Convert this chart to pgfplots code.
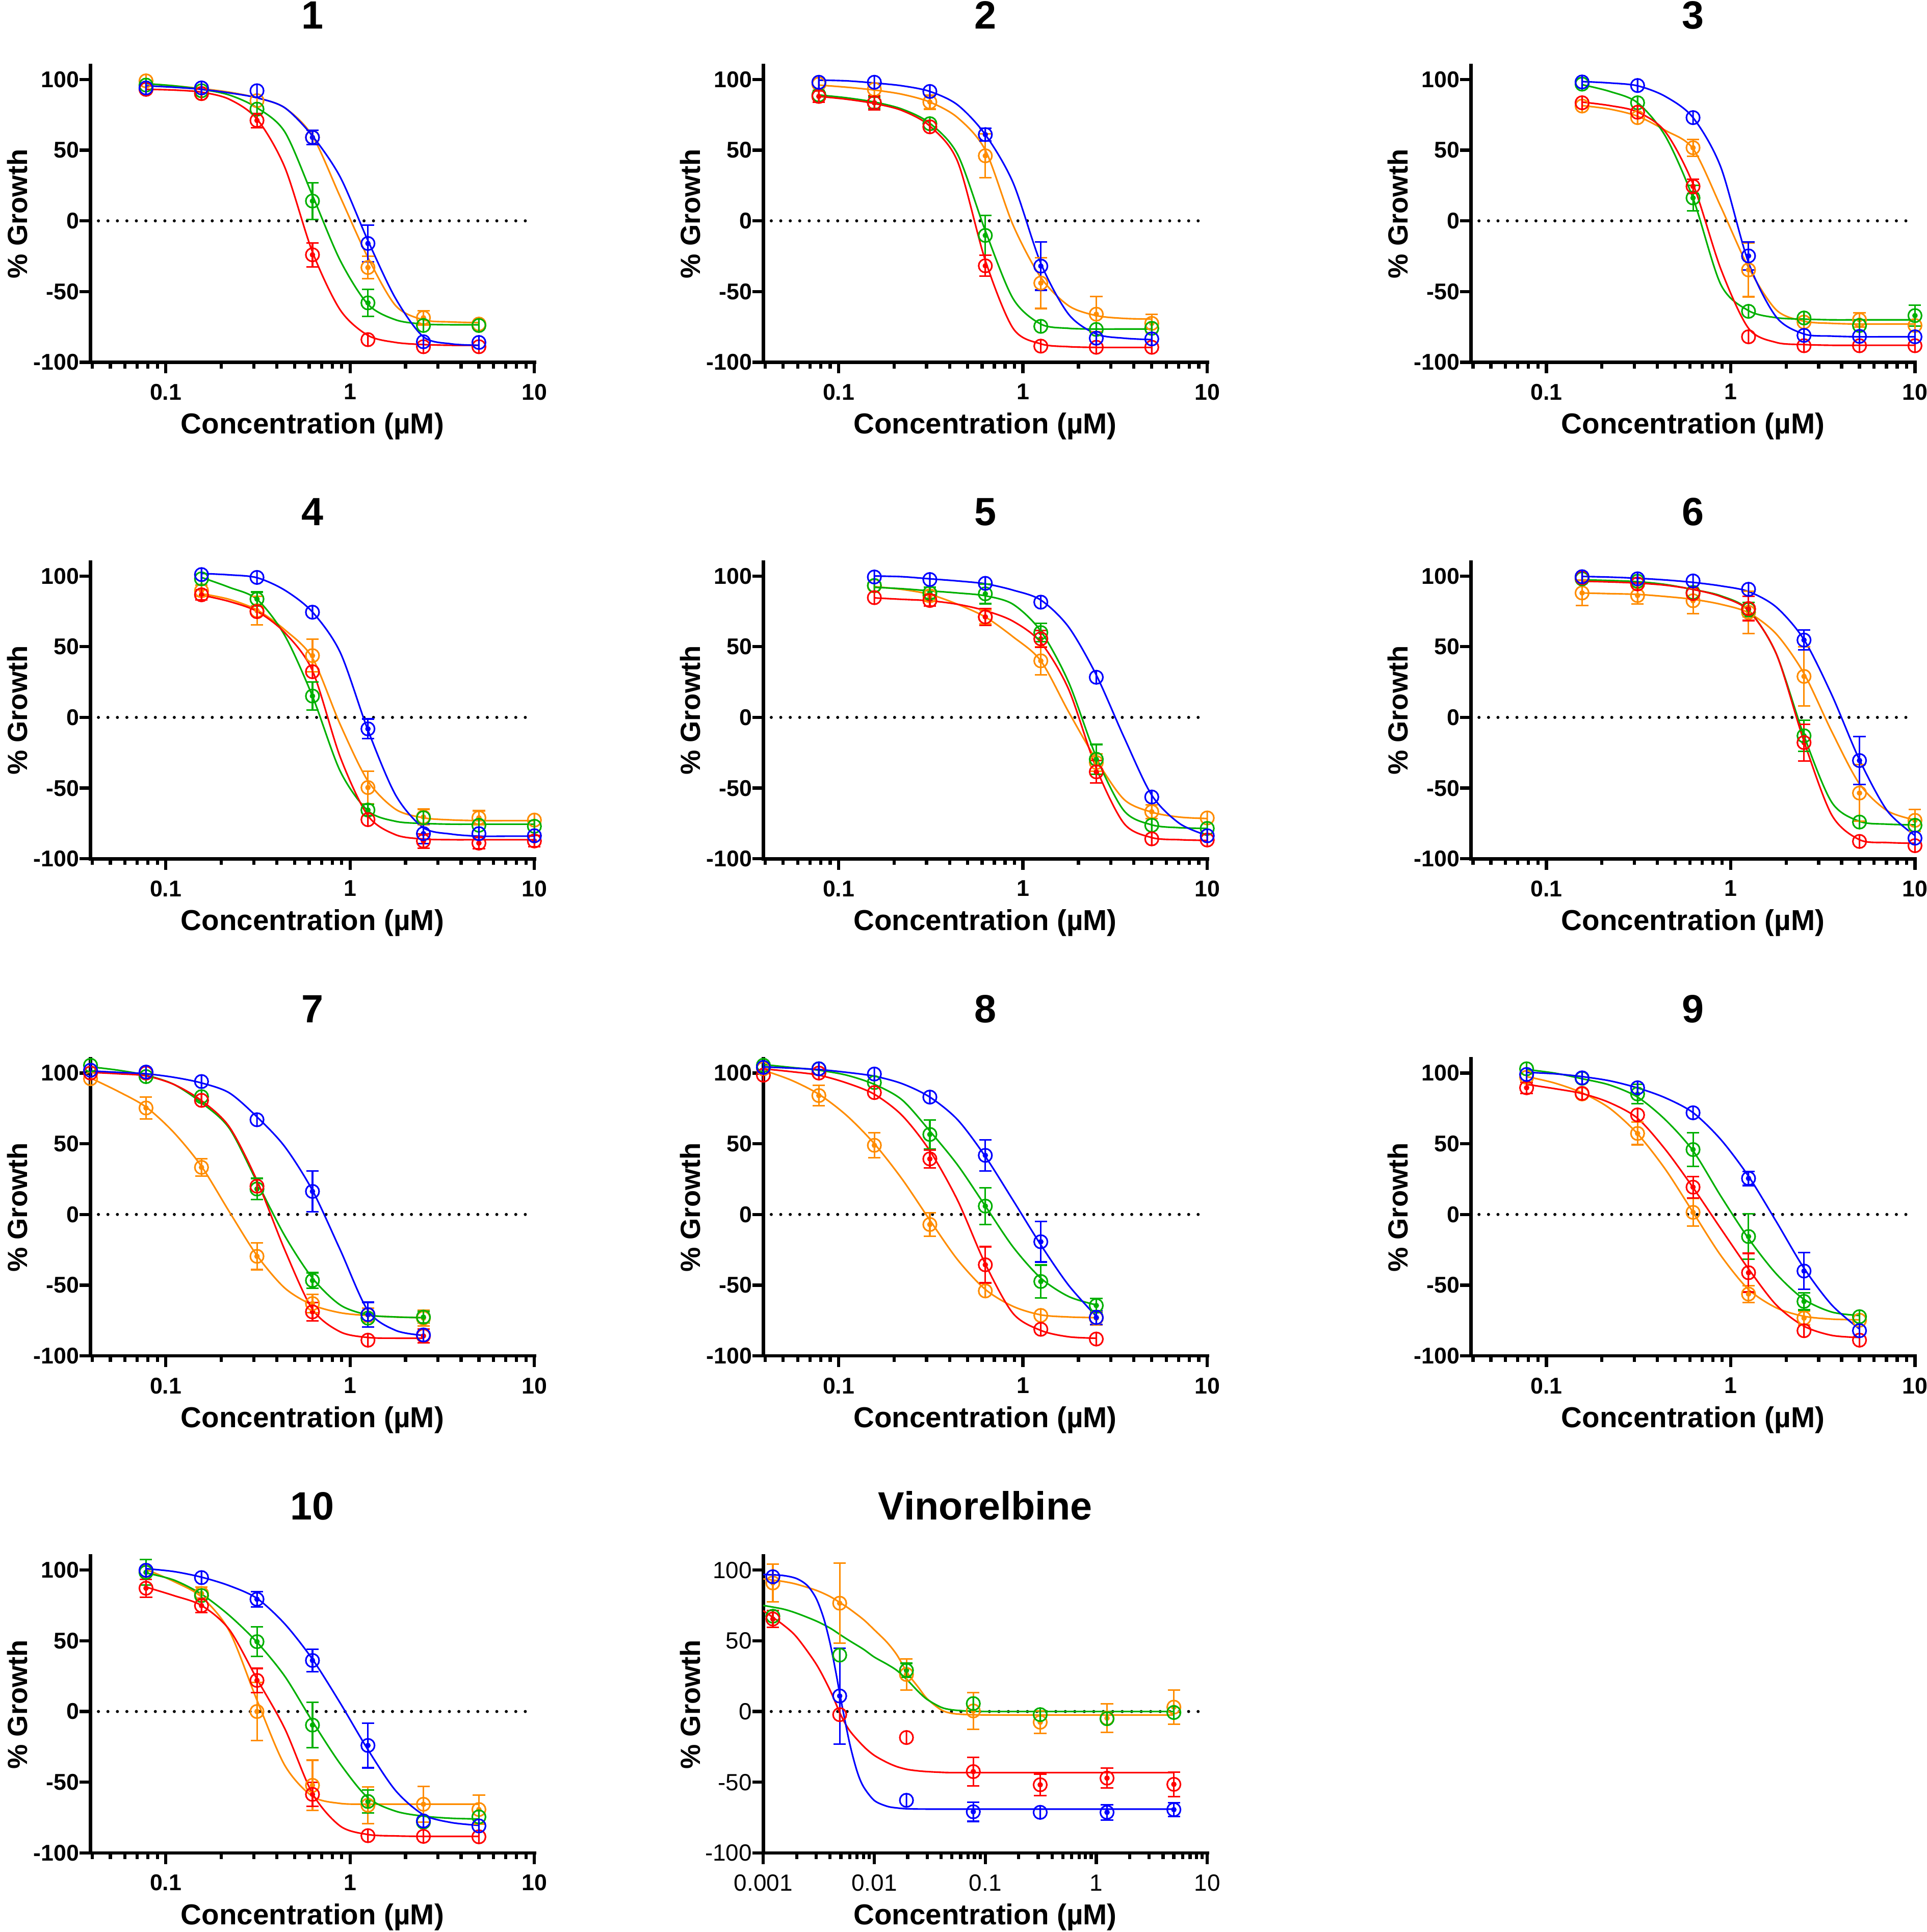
\documentclass[border=0pt]{standalone}
\usepackage{pgfplots}
\pgfplotsset{compat=1.18}
\usepackage{pgfplotstable}
\usepackage{fontspec}
\setmainfont{Liberation Sans}
\definecolor{cO}{RGB}{255,140,0}
\definecolor{cG}{RGB}{0,176,0}
\definecolor{cR}{RGB}{255,0,0}
\definecolor{cB}{RGB}{0,0,255}
\pgfdeclareplotmark{phi}{%
  \pgfpathcircle{\pgfpointorigin}{\pgfplotmarksize}%
  \pgfpathmoveto{\pgfpoint{0pt}{-\pgfplotmarksize}}%
  \pgfpathlineto{\pgfpoint{0pt}{\pgfplotmarksize}}%
  \pgfusepathqstroke}
\pgfplotsset{
  myBase/.style={
    ymin=-100, ymax=110,
    scale only axis, width=360.4pt, height=241pt,
    axis x line*=bottom, axis y line*=left,
    axis line style={line width=2.8pt, -, line cap=rect},
    tick align=outside, major tick length=9pt, minor tick length=5pt,
    tick style={line width=2.6pt, black},
    ytick={-100,-50,0,50,100}, yticklabels={-100,-50,0,50,100},
    clip=false,
    tick label style={font=\fontsize{18.5}{18.5}\selectfont\bfseries},
    xticklabel style={anchor=north, inner sep=0pt, yshift=-8.5pt},
    yticklabel style={anchor=east, inner sep=0pt, xshift=0pt},
    xlabel={Concentration (µM)}, ylabel={\% Growth},
    xlabel style={font=\fontsize{23.4}{23.4}\selectfont\bfseries, at={(axis description cs:0.5,-0.2407)}, anchor=base},
    ylabel style={font=\fontsize{22.5}{22.5}\selectfont\bfseries, at={(axis description cs:-0.1426,0.5)}, anchor=base},
    title style={font=\fontsize{32}{32}\selectfont\bfseries, at={(axis description cs:0.5,1.0975)}, anchor=base},
  },
  myStd/.style={myBase, xmin=0.039, xmax=10, xtick={0.1,1,10}, xticklabels={0.1,1,10},
    minor xtick={0.04,0.05,0.06,0.07,0.08,0.09,0.2,0.3,0.4,0.5,0.6,0.7,0.8,0.9,2,3,4,5,6,7,8,9}},
  myVin/.style={myBase, xmin=0.001, xmax=10, xtick={0.001,0.01,0.1,1,10}, xticklabels={0.001,0.01,0.1,1,10},
    minor xtick={0.002,0.003,0.004,0.005,0.006,0.007,0.008,0.009,0.02,0.03,0.04,0.05,0.06,0.07,0.08,0.09,0.2,0.3,0.4,0.5,0.6,0.7,0.8,0.9,2,3,4,5,6,7,8,9},
    tick label style={font=\fontsize{19}{19}\selectfont\mdseries}},
  myZero/.style={black, line width=2.5pt, dash pattern=on 0pt off 7.7pt, line cap=round, mark=none},
  myCurve/.style={smooth, line width=1.3pt, mark=none},
  myPts/.style={only marks, mark=phi, mark size=5.4pt, mark options={line width=1.3pt, solid}},
  myErrs/.style={only marks, mark=none, error bars/y dir=both, error bars/y explicit,
    error bars/error bar style={line width=1.3pt},
    error bars/error mark options={rotate=90, line width=1.3pt, mark size=5pt}},
}
\newcommand{\curves}[1]{%
  \addplot[myCurve,cO] table[x=x,y=o]{#1};
  \addplot[myCurve,cG] table[x=x,y=g]{#1};
  \addplot[myCurve,cR] table[x=x,y=r]{#1};
  \addplot[myCurve,cB] table[x=x,y=b]{#1};}
\newcommand{\points}[1]{%
  \addplot[myPts,cO] table[x=x,y=o]{#1};
  \addplot[myPts,cG] table[x=x,y=g]{#1};
  \addplot[myPts,cR] table[x=x,y=r]{#1};
  \addplot[myPts,cB] table[x=x,y=b]{#1};}

% ---------------- Panel 1
\pgfplotstableread{
x o g r b
0.078125 97 97 93 95.5
0.1105 95.5 95.5 92.5 94.5
0.15625 93.5 93 91 93
0.2210 91 89 86 90.5
0.3125 87 80 72 87
0.4419 80 63 38 80
0.625 60 18 -22 60
0.8839 17 -28 -63 31
1.25 -26 -59 -81 -14
1.7678 -60 -70 -86 -55
2.5 -70 -73 -87.5 -82
3.5355 -71.5 -73.5 -88 -87
5 -72 -73.5 -88 -88
}\cA
\pgfplotstableread{
x o g r b
0.078125 99 96 93 94
0.15625 90 92 90 94
0.3125 85 79 71 92
0.625 59 14 -24 59
1.25 -33 -58 -84 -16
2.5 -68.5 -74 -89 -85.5
5 -73 -74 -89 -86
}\pA
% ---------------- Panel 2
\pgfplotstableread{
x o g r b
0.078125 96 89 88 99.5
0.1105 94.5 87 86 99
0.15625 92.5 84 83 97.5
0.2210 89.5 79 78 95.5
0.3125 84 69 67 91.5
0.4419 73 47 42 82
0.625 50 -7 -28 61
0.8839 -3 -55 -76 27
1.25 -40 -73 -87 -30
1.7678 -60 -76 -89 -66
2.5 -67 -76.5 -89.5 -80
3.5355 -69 -76.5 -89.5 -83
5 -69.5 -76.5 -89.5 -84
}\cB
\pgfplotstableread{
x o g r b
0.078125 96.7 89 88 98
0.15625 93 83.5 83.5 98
0.3125 84 68.7 66.5 91.5
0.625 46 -10.3 -31.8 61
1.25 -44 -74.6 -88.6 -32
2.5 -66 -76.8 -89.4 -83
5 -72.5 -76 -89.4 -83.5
}\pB
% ---------------- Panel 3
\pgfplotstableread{
x o g r b
0.15625 81.5 96.3 84 98.5
0.2210 79 91.5 81.5 97.5
0.3125 74 83.5 77 95.5
0.4419 64 60 63 88
0.625 51 16 26 73
0.8839 10 -45 -34 38
1.25 -33 -63.5 -76 -29.5
1.7678 -63 -68.5 -86 -68
2.5 -71 -69.5 -87.5 -80
3.5355 -72.5 -70 -88 -81.5
5 -73 -70 -88 -82
7.0711 -73 -70 -88 -82
10 -73 -70 -88 -82
}\cC
\pgfplotstableread{
x o g r b
0.15625 81.2 96.7 83.5 98.2
0.3125 73 83.5 76.8 95.7
0.625 51.7 16.2 24.4 73
1.25 -34.7 -64 -82 -24.8
2.5 -71.6 -68.7 -88.3 -81
5 -70 -74 -88.3 -81.7
10 -74 -67 -88.3 -82
}\pC
% ---------------- Panel 4
\pgfplotstableread{
x o g r b
0.15625 87.5 99 86.5 101.8
0.2210 83.5 92 82 100.8
0.3125 76 83.5 75 98.8
0.4419 62 58 60 90
0.625 42 15 33 74.5
0.8839 -5 -38 -28 46
1.25 -45 -66 -69.5 -9
1.7678 -65 -73.5 -83 -55
2.5 -71 -75 -86 -78
3.5355 -72.5 -75.5 -86.5 -82.5
5 -73 -75.5 -86.5 -84
7.0711 -73 -75.5 -86.5 -84
10 -73 -75.5 -86.5 -84
}\cD
\pgfplotstableread{
x o g r b
0.15625 89.6 98 86.7 101
0.3125 75.5 83.7 74.8 99
0.625 43.7 15.1 32.3 74.4
1.25 -49.6 -65.5 -72.3 -8.1
2.5 -70.4 -71 -87.4 -82.2
5 -71 -76.3 -88.9 -82.2
10 -72.6 -77 -87.4 -83.7
}\pD
% ---------------- Panel 5
\pgfplotstableread{
x o g r b
0.15625 92.5 92 84.5 100
0.2210 90.5 91 83.5 99.5
0.3125 87 89.5 82.5 98
0.4419 80 88 80 96.5
0.625 71 86 75.5 94.5
0.8839 57 80 68 90
1.25 40 61 53 83
1.7678 4 25 20 64
2.5 -30 -28 -36 30
3.5355 -58 -66 -75 -14
5 -67 -76 -85 -55
7.0711 -70.5 -78 -86.5 -75
10 -71.5 -78.5 -87 -83.5
}\cE
\pgfplotstableread{
x o g r b
0.15625 93 93.3 84.7 99.3
0.3125 86 88 82.7 97.5
0.625 71 87.4 71.1 94.8
1.25 40 60 55.6 81.5
2.5 -31.9 -29.6 -38.5 28.4
5 -66.7 -76.3 -85.9 -56.3
10 -71.1 -78.5 -86.7 -83.7
}\pE
% ---------------- Panel 6
\pgfplotstableread{
x o g r b
0.15625 88 97.3 96.3 99.7
0.2210 87.5 96.8 95.8 99.2
0.3125 87 96 95 98.4
0.4419 85.5 94 93.5 97.2
0.625 83.5 90.5 90.5 95.5
0.8839 80 86 85.5 93
1.25 74 76 75.5 89
1.7678 59 45 45 78
2.5 31 -13 -17 55
3.5355 -10 -60 -69 16
5 -47 -73.5 -86.5 -30
7.0711 -66 -75.5 -88.5 -66
10 -72.5 -76 -89 -83.5
}\cF
\pgfplotstableread{
x o g r b
0.15625 88 98 98.8 99.5
0.3125 86.2 96.3 94.4 98
0.625 82.5 88.4 87.6 96.5
1.25 74.3 76.3 77 90.6
2.5 29 -13 -17.8 54.7
5 -53.5 -74 -87.7 -30.5
10 -72.8 -76.3 -90.7 -85.4
}\pF
% ---------------- Panel 7
\pgfplotstableread{
x o g r b
0.0390625 96.5 104.4 100.5 101.5
0.05524 87 102 99.5 100.5
0.078125 76 98.5 98 99.5
0.1105 58 92 92 97
0.15625 34 79 80.5 93
0.2210 2 61 62 86
0.3125 -29 23 24 69
0.4419 -52 -15 -25 48
0.625 -64 -45 -67 17
0.8839 -69.5 -64 -83 -25
1.25 -71.5 -71 -87 -68
1.7678 -72.5 -72.5 -87.5 -82
2.5 -73 -73 -87.5 -85.5
}\cG
\pgfplotstableread{
x o g r b
0.0390625 96 105.5 100 102
0.078125 75.3 97.5 100 100.7
0.15625 33.3 83.3 80.7 94
0.3125 -29.6 18 20 67
0.625 -63 -46.7 -68.9 16.3
1.25 -71.1 -73.3 -88.9 -70.8
2.5 -73.3 -72.6 -85.9 -85.2
}\pG
% ---------------- Panel 8
\pgfplotstableread{
x o g r b
0.0390625 102 106 103 104.4
0.05524 95 104 101 103.5
0.078125 85 102 98.5 102.5
0.1105 70 98.5 93 100.5
0.15625 50 92 85 97.8
0.2210 25 81 70 92.5
0.3125 -4 59 45 83
0.4419 -32 35 10 67
0.625 -53 6 -35 41
0.8839 -65 -23 -70 10
1.25 -71 -45 -82 -21.5
1.7678 -72.5 -58 -86.5 -50
2.5 -73 -64 -87.5 -72
}\cH
\pgfplotstableread{
x o g r b
0.0390625 103 105.5 98.5 104
0.078125 84.1 103 100 103
0.15625 48.9 93.3 86.2 99.3
0.3125 -7.1 56.6 39.3 83
0.625 -54.1 5.9 -35.6 41.8
1.25 -71.4 -47.4 -81.2 -19.3
2.5 -73.3 -64.4 -88.1 -72.9
}\pH
% ---------------- Panel 9
\pgfplotstableread{
x o g r b
0.078125 97.5 102.5 92 100.5
0.1105 93 100 89 99.5
0.15625 86 96 85.5 97.5
0.2210 75 91.5 79 94.5
0.3125 57 83 68 89.5
0.4419 32 67 46 82.5
0.625 1.5 45 19 72
0.8839 -29 13 -10 53
1.25 -53 -17 -38.5 27
1.7678 -66 -42 -64 -5
2.5 -72 -60 -79 -38
3.5355 -74 -69 -85.5 -64
5 -74.5 -71.5 -87 -81
}\cI
\pgfplotstableread{
x o g r b
0.078125 97 103 89.6 99
0.15625 85.2 96.3 85.6 96.6
0.3125 57.3 85.2 70.4 89.6
0.625 1.5 45.9 19.3 71.9
1.25 -56.3 -15.6 -41.2 25.5
2.5 -73.3 -61.5 -82.2 -40
5 -74.8 -72.3 -88.9 -82.2
}\pI
% ---------------- Panel 10
\pgfplotstableread{
x o g r b
0.078125 100.5 98 88 101
0.1105 92 93 82 99
0.15625 81 83 75 95
0.2210 57 68 58 89
0.3125 8 49 23 80
0.4419 -38 25 -12 62
0.625 -60 -7 -58 37
0.8839 -65 -37 -81 6
1.25 -65.5 -61 -87 -27
1.7678 -65.5 -70.5 -88 -56
2.5 -65.5 -74 -88.3 -73
3.5355 -65.5 -75.5 -88.3 -78.5
5 -65.5 -76 -88.3 -80.5
}\cJ
\pgfplotstableread{
x o g r b
0.078125 99 98.4 87.2 99.9
0.15625 83.5 82 74.9 94.7
0.3125 0 49.4 22 79.4
0.625 -52.2 -9.6 -58.6 36.1
1.25 -66.3 -63.6 -87.8 -24
2.5 -65.6 -78.2 -88.3 -77.4
5 -69.3 -74.5 -88.6 -80.9
}\pJ
% ---------------- Vinorelbine points
\pgfplotstableread{
x o g r b
0.00122 90.9 67.4 65.4 95.3
0.00488 76.6 39.9 -2.2 11
0.0195 26.2 29.1 -18.4 -62.8
0.078 0.4 5.6 -42.5 -70.9
0.3125 -7.6 -2.2 -51.8 -71.3
1.25 -4.7 -5.1 -47.1 -71.3
5 3.1 -0.7 -51.5 -69.4
}\pK

\begin{document}
\begin{tikzpicture}
\useasboundingbox (0,0) rectangle (1564pt,-1568pt);

% ===== Panel 1
\begin{axis}[xmode=log, myStd, title={1}, at={(73.4pt,-294pt)}, anchor=south west]
\addplot[myZero] coordinates {(0.0431,0) (10,0)};
\curves{\cA}
\addplot[myErrs,cO] coordinates {(1.25,-33) +- (0,8) (2.5,-68.5) +- (0,5)};
\addplot[myErrs,cG] coordinates {(0.625,14) +- (0,13) (1.25,-58) +- (0,9.5)};
\addplot[myErrs,cR] coordinates {(0.3125,71) +- (0,5) (0.625,-24) +- (0,8.5)};
\addplot[myErrs,cB] coordinates {(0.625,59) +- (0,5) (1.25,-16) +- (0,13)};
\points{\pA}
\end{axis}

% ===== Panel 2
\begin{axis}[xmode=log, myStd, title={2}, at={(619.6pt,-294pt)}, anchor=south west]
\addplot[myZero] coordinates {(0.0431,0) (10,0)};
\curves{\cB}
\addplot[myErrs,cO] coordinates {(0.3125,84) +- (0,5) (0.625,46) +- (0,15.5) (1.25,-44) +- (0,18) (2.5,-66) +- (0,12.5) (5,-72.5) +- (0,6.5)};
\addplot[myErrs,cG] coordinates {(0.15625,83.5) +- (0,4) (0.625,-10.3) +- (0,14)};
\addplot[myErrs,cR] coordinates {(0.078125,88) +- (0,4) (0.15625,83.5) +- (0,5) (0.625,-31.8) +- (0,7.4)};
\addplot[myErrs,cB] coordinates {(0.625,61) +- (0,4.5) (1.25,-32) +- (0,17)};
\points{\pB}
\end{axis}

% ===== Panel 3
\begin{axis}[xmode=log, myStd, title={3}, at={(1194.1pt,-294pt)}, anchor=south west]
\addplot[myZero] coordinates {(0.0431,0) (10,0)};
\curves{\cC}
\addplot[myErrs,cO] coordinates {(0.625,51.7) +- (0,6) (1.25,-34.7) +- (0,19) (5,-70) +- (0,5)};
\addplot[myErrs,cG] coordinates {(0.625,16.2) +- (0,9) (10,-67) +- (0,7.5)};
\addplot[myErrs,cR] coordinates {(0.625,24.4) +- (0,5)};
\addplot[myErrs,cB] coordinates {(1.25,-24.8) +- (0,10)};
\points{\pC}
\end{axis}

% ===== Panel 4
\begin{axis}[xmode=log, myStd, title={4}, at={(73.4pt,-697pt)}, anchor=south west]
\addplot[myZero] coordinates {(0.0431,0) (10,0)};
\curves{\cD}
\addplot[myErrs,cO] coordinates {(0.15625,89.6) +- (0,4) (0.3125,75.5) +- (0,10) (0.625,43.7) +- (0,11.5) (1.25,-49.6) +- (0,11.5) (2.5,-70.4) +- (0,5.5) (5,-71) +- (0,5)};
\addplot[myErrs,cG] coordinates {(0.3125,83.7) +- (0,5) (0.625,15.1) +- (0,10) (1.25,-65.5) +- (0,4)};
\addplot[myErrs,cR] coordinates {(0.15625,86.7) +- (0,3.5) (2.5,-87.4) +- (0,5) (5,-88.9) +- (0,4) (10,-87.4) +- (0,4)};
\addplot[myErrs,cB] coordinates {(1.25,-8.1) +- (0,7) (2.5,-82.2) +- (0,7)};
\points{\pD}
\end{axis}

% ===== Panel 5
\begin{axis}[xmode=log, myStd, title={5}, at={(619.6pt,-697pt)}, anchor=south west]
\addplot[myZero] coordinates {(0.0431,0) (10,0)};
\curves{\cE}
\addplot[myErrs,cO] coordinates {(0.3125,86) +- (0,4) (0.625,71) +- (0,5) (1.25,40) +- (0,10) (2.5,-31.9) +- (0,6) (5,-66.7) +- (0,5)};
\addplot[myErrs,cG] coordinates {(0.3125,88) +- (0,4) (0.625,87.4) +- (0,7) (1.25,60) +- (0,6.5) (2.5,-29.6) +- (0,10.5)};
\addplot[myErrs,cR] coordinates {(0.3125,82.7) +- (0,4) (0.625,71.1) +- (0,6) (1.25,55.6) +- (0,6) (2.5,-38.5) +- (0,8)};
\points{\pE}
\end{axis}

% ===== Panel 6
\begin{axis}[xmode=log, myStd, title={6}, at={(1194.1pt,-697pt)}, anchor=south west]
\addplot[myZero] coordinates {(0.0431,0) (10,0)};
\curves{\cF}
\addplot[myErrs,cO] coordinates {(0.15625,88) +- (0,9) (0.3125,86.2) +- (0,6) (0.625,82.5) +- (0,9) (1.25,74.3) +- (0,15) (2.5,29) +- (0,21) (5,-53.5) +- (0,20) (10,-72.8) +- (0,7.7)};
\addplot[myErrs,cG] coordinates {(1.25,76.3) +- (0,5) (2.5,-13) +- (0,11)};
\addplot[myErrs,cR] coordinates {(1.25,77) +- (0,8.5) (2.5,-17.8) +- (0,13)};
\addplot[myErrs,cB] coordinates {(2.5,54.7) +- (0,7) (5,-30.5) +- (0,17)};
\points{\pF}
\end{axis}

% ===== Panel 7
\begin{axis}[xmode=log, myStd, title={7}, at={(73.4pt,-1100.4pt)}, anchor=south west]
\addplot[myZero] coordinates {(0.0431,0) (10,0)};
\curves{\cG}
\addplot[myErrs,cO] coordinates {(0.078125,75.3) +- (0,7.8) (0.15625,33.3) +- (0,6) (0.3125,-29.6) +- (0,9.4) (0.625,-63) +- (0,6.5) (1.25,-71.1) +- (0,5) (2.5,-73.3) +- (0,5.5)};
\addplot[myErrs,cG] coordinates {(0.3125,18) +- (0,7.5) (0.625,-46.7) +- (0,5.5) (2.5,-72.6) +- (0,4)};
\addplot[myErrs,cR] coordinates {(0.625,-68.9) +- (0,6.5) (2.5,-85.9) +- (0,5)};
\addplot[myErrs,cB] coordinates {(0.625,16.3) +- (0,14.5) (1.25,-70.8) +- (0,8.7)};
\points{\pG}
\end{axis}

% ===== Panel 8
\begin{axis}[xmode=log, myStd, title={8}, at={(619.6pt,-1100.4pt)}, anchor=south west]
\addplot[myZero] coordinates {(0.0431,0) (10,0)};
\curves{\cH}
\addplot[myErrs,cO] coordinates {(0.078125,84.1) +- (0,7.3) (0.15625,48.9) +- (0,8.9) (0.3125,-7.1) +- (0,8.3) (2.5,-73.3) +- (0,5)};
\addplot[myErrs,cG] coordinates {(0.3125,56.6) +- (0,10.3) (0.625,5.9) +- (0,13) (1.25,-47.4) +- (0,11.6) (2.5,-64.4) +- (0,5)};
\addplot[myErrs,cR] coordinates {(0.3125,39.3) +- (0,6.3) (0.625,-35.6) +- (0,12.8)};
\addplot[myErrs,cB] coordinates {(0.625,41.8) +- (0,11) (1.25,-19.3) +- (0,14.3) (2.5,-72.9) +- (0,5)};
\points{\pH}
\end{axis}

% ===== Panel 9
\begin{axis}[xmode=log, myStd, title={9}, at={(1194.1pt,-1100.4pt)}, anchor=south west]
\addplot[myZero] coordinates {(0.0431,0) (10,0)};
\curves{\cI}
\addplot[myErrs,cO] coordinates {(0.3125,57.3) +- (0,8) (0.625,1.5) +- (0,9.7) (1.25,-56.3) +- (0,6) (2.5,-73.3) +- (0,5)};
\addplot[myErrs,cG] coordinates {(0.3125,85.2) +- (0,7) (0.625,45.9) +- (0,12) (1.25,-15.6) +- (0,16) (2.5,-61.5) +- (0,6)};
\addplot[myErrs,cR] coordinates {(0.078125,89.6) +- (0,4) (0.625,19.3) +- (0,7.6) (1.25,-41.2) +- (0,13.7)};
\addplot[myErrs,cB] coordinates {(1.25,25.5) +- (0,5) (2.5,-40) +- (0,13)};
\points{\pI}
\end{axis}

% ===== Panel 10
\begin{axis}[xmode=log, myStd, title={10}, at={(73.4pt,-1503.8pt)}, anchor=south west]
\addplot[myZero] coordinates {(0.0431,0) (10,0)};
\curves{\cJ}
\addplot[myErrs,cO] coordinates {(0.15625,83.5) +- (0,4.5) (0.3125,0) +- (0,20.5) (0.625,-52.2) +- (0,17.8) (1.25,-66.3) +- (0,13) (2.5,-65.6) +- (0,12.6) (5,-69.3) +- (0,10.2)};
\addplot[myErrs,cG] coordinates {(0.078125,98.4) +- (0,9) (0.3125,49.4) +- (0,10.5) (0.625,-9.6) +- (0,16) (1.25,-63.6) +- (0,8.2)};
\addplot[myErrs,cR] coordinates {(0.078125,87.2) +- (0,6.3) (0.15625,74.9) +- (0,5) (0.3125,22) +- (0,8.5) (0.625,-58.6) +- (0,8.5)};
\addplot[myErrs,cB] coordinates {(0.3125,79.4) +- (0,5.5) (0.625,36.1) +- (0,8) (1.25,-24) +- (0,15.8)};
\points{\pJ}
\end{axis}

% ===== Vinorelbine
\begin{axis}[xmode=log, myVin, title={Vinorelbine}, at={(619.6pt,-1503.8pt)}, anchor=south west]
\addplot[myZero] coordinates {(0.00118,0) (10,0)};
\addplot[myCurve,cO] coordinates {(0.001,93.8) (0.0015,92) (0.002,90) (0.003,85.7) (0.004,81.3) (0.005,76.6) (0.006,72.5) (0.008,65) (0.01,57.8) (0.013,49) (0.016,40) (0.02,27) (0.025,17) (0.03,9) (0.04,1.2) (0.05,-1.3) (0.07,-2.2) (0.1,-2.4) (0.2,-2.5) (0.5,-2.5) (1,-2.5) (5,-2.5)};
\addplot[myCurve,cG] coordinates {(0.001,75) (0.0015,72.5) (0.002,69.5) (0.003,64) (0.004,59) (0.005,54) (0.006,50) (0.008,44) (0.01,38.5) (0.013,33.5) (0.016,29) (0.02,22) (0.025,14) (0.03,8.5) (0.04,3) (0.05,1.2) (0.07,0.3) (0.1,0) (0.2,0) (0.5,0) (1,0) (5,0)};
\addplot[myCurve,cR] coordinates {(0.001,71.3) (0.0015,61.5) (0.002,52.6) (0.003,33.5) (0.004,15) (0.005,-2.5) (0.006,-13.5) (0.008,-24.6) (0.01,-31) (0.013,-36) (0.016,-39) (0.02,-41) (0.025,-42) (0.03,-42.5) (0.04,-43) (0.05,-43.2) (0.1,-43.2) (0.5,-43.2) (1,-43.2) (5,-43.2)};
\addplot[myCurve,cB] coordinates {(0.001,96.9) (0.0015,96.2) (0.002,94) (0.0025,89) (0.003,79.9) (0.0035,66) (0.004,48.2) (0.0045,28.1) (0.005,8.4) (0.006,-22.5) (0.007,-42.3) (0.008,-53.2) (0.01,-62.9) (0.013,-67) (0.016,-68.2) (0.02,-68.8) (0.03,-69) (0.1,-69) (1,-69) (5,-69)};
\addplot[myErrs,cO] coordinates {(0.00122,90.9) +- (0,13.2) (0.00488,76.6) +- (0,28.3) (0.0195,26.2) +- (0,11) (0.078,0.4) +- (0,13) (0.3125,-7.6) +- (0,8) (1.25,-4.7) +- (0,10) (5,3.1) +- (0,12)};
\addplot[myErrs,cG] coordinates {(0.0195,29.1) +- (0,5)};
\addplot[myErrs,cR] coordinates {(0.00122,65.4) +- (0,6) (0.078,-42.5) +- (0,10) (0.3125,-51.8) +- (0,7.6) (1.25,-47.1) +- (0,7) (5,-51.5) +- (0,8.6)};
\addplot[myErrs,cB] coordinates {(0.00488,11) +- (0,33.9) (0.078,-70.9) +- (0,6.8) (1.25,-71.3) +- (0,5.4) (5,-69.4) +- (0,4.9)};
\points{\pK}
\end{axis}
\end{tikzpicture}
\end{document}
